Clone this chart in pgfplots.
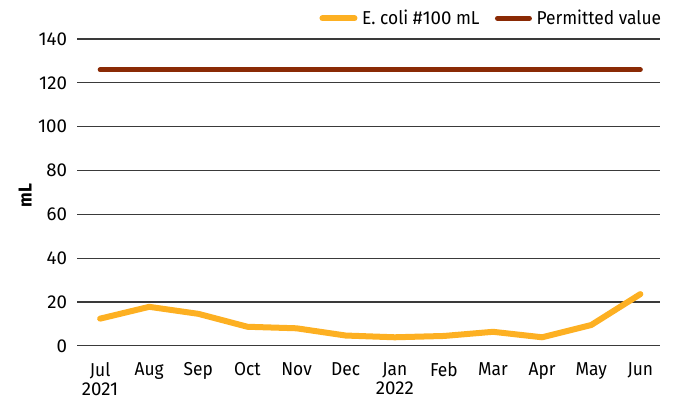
\documentclass[border=0pt]{standalone}
\usepackage{fontspec}
\setmainfont{Fira Sans}[FakeStretch=0.93]
\newfontfamily\numfont{Fira Sans}
\usepackage{pgfplots}
\pgfplotsset{compat=1.18}
\definecolor{ecoli}{HTML}{FDB022}
\definecolor{permit}{HTML}{8A2A05}
\definecolor{gridc}{HTML}{3A3A3A}
\begin{document}
\begin{tikzpicture}[font=\fontsize{14}{14.5}\selectfont]
\begin{axis}[
  scale only axis,
  width=437pt, height=230pt,
  xmin=-0.47, xmax=11.4,
  ymin=0, ymax=140,
  ytick={0,20,...,140},
  xtick={0,...,11},
  xticklabels={{Jul\\{\numfont 2021}},Aug,Sep,Oct,Nov,Dec,{Jan\\{\numfont 2022}},Feb,Mar,Apr,May,Jun},
  xticklabel style={align=center, anchor=north, yshift=-9pt},
  yticklabel style={xshift=-4pt, font=\fontsize{14}{14.5}\numfont},
  axis line style={draw=none},
  tick style={draw=none},
  ymajorgrids,
  grid style={gridc, line width=0.9pt},
  /pgf/number format/assume math mode=true,
  ylabel={\bfseries mL},
  every axis y label/.style={at={(axis description cs:-0.089,0.49)}, rotate=90, anchor=center},
  clip=false,
  legend style={at={(1,1)}, anchor=east, xshift=2pt, yshift=15.5pt, draw=none, fill=none,
    legend columns=2, column sep=2.5pt, inner sep=0pt, nodes={inner sep=1pt},
    /tikz/every even column/.append style={column sep=10.5pt}},
  legend image code/.code={\draw[#1, line cap=round] (0pt,0pt) -- (24pt,0pt);},
]
\addplot[ecoli, line width=4.5pt, line join=round, line cap=round] coordinates {
(0,12.4) (1,17.8) (2,14.6) (3,8.7) (4,8.0) (5,4.7) (6,3.9) (7,4.5) (8,6.4) (9,3.9) (10,9.5) (11,23.6)};
\addlegendentry{E. coli {\numfont\#100} mL}
\addplot[permit, line width=3.7pt, line cap=round] coordinates {
(0,126) (1,126) (2,126) (3,126) (4,126) (5,126) (6,126) (7,126) (8,126) (9,126) (10,126) (11,126)};
\addlegendentry{Permitted value}
\end{axis}
\pgfresetboundingbox
\path[use as bounding box] ([shift={(-57.75pt,-42pt)}]current axis.south west) rectangle ([shift={(13.5pt,29.25pt)}]current axis.north east);
\end{tikzpicture}
\end{document}
